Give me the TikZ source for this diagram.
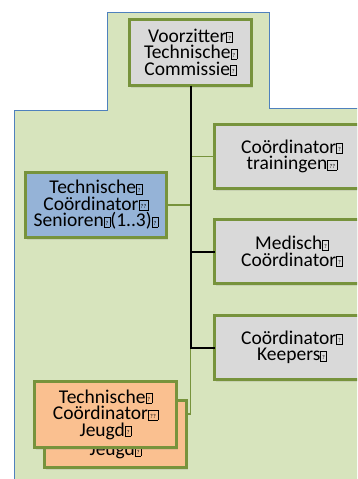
\documentclass[tikz,border=0pt]{standalone}
\usepackage{fontspec}
\setmainfont{Carlito}
\usetikzlibrary{shadows}
\definecolor{bggreen}{HTML}{D7E4BD}
\definecolor{bgblue}{HTML}{4F81BD}
\definecolor{olive}{HTML}{77933C}
\definecolor{boxgray}{HTML}{D9D9D9}
\definecolor{boxblue}{HTML}{95B3D7}
\definecolor{boxorange}{HTML}{FAC090}
\newcommand\qg{{\setlength\fboxsep{0pt}\setlength\fboxrule{0.5pt}\fbox{\makebox[5.5pt]{\rule{0pt}{9.5pt}\raisebox{1.5pt}{\fontsize{6}{6}\selectfont ?}}}}}
\newcommand\qgg{{\setlength\fboxsep{0pt}\setlength\fboxrule{0.5pt}\fbox{\makebox[9pt]{\rule{0pt}{9.5pt}\raisebox{1.5pt}{\fontsize{6}{6}\selectfont ??}}}}}
\tikzset{
  orgbox/.style={draw=olive, line width=3pt, inner sep=0pt, outer sep=0pt,
    align=center, font=\fontsize{19.5}{16.5}\selectfont, text=black,
    drop shadow={opacity=0.18, shadow xshift=1.5pt, shadow yshift=-2pt}},
  grayfill/.style={orgbox, fill=boxgray},
  greenline/.style={draw=olive, line width=1.2pt},
  blackline/.style={draw=black, line width=2pt},
}
\begin{document}
\begin{tikzpicture}[x=1pt,y=-1pt]
\useasboundingbox (0,0) rectangle (357,479);
\clip (0,0) rectangle (357,479);
% background area
\draw[fill=bggreen, draw=bgblue, line width=1pt]
  (107.5,12) -- (269,12) -- (269,108.5) -- (380,108.5) -- (380,500)
  -- (14.5,500) -- (14.5,110.5) -- (107.5,110.5) -- cycle;
% nodes
\node[grayfill, minimum width=122pt, minimum height=66pt] (top) at (190.5,52.5)
  {Voorzitter\qg\\Technische\qg\\Commissie\qg};
\node[grayfill, minimum width=155pt, minimum height=64pt] (train) at (292,156.5)
  {Coördinator\qg\\trainingen\qgg};
\node[grayfill, minimum width=155pt, minimum height=64pt] (med) at (292,251.5)
  {Medisch\qg\\Coördinator\qg};
\node[grayfill, minimum width=155pt, minimum height=64pt] (keep) at (292,347.5)
  {Coördinator\qg\\Keepers\qg};
\node[orgbox, fill=boxblue, minimum width=141pt, minimum height=65pt] (sen) at (96,205)
  {Technische\qg\\Coördinator\qgg\\Senioren\qg(1..3)\qg};
% connectors
\draw[greenline] (top.south) -- (top.south |- train.west) -- (train.west);
\draw[greenline] (sen.east) -- (sen.east -| top.south);
\draw[greenline] (top.south) -- (top.south |- keep.west);
\coordinate (jconn) at (105.5,414);
\draw[greenline] (top.south |- keep.west) -- (top.south |- jconn) -- (jconn);
\draw[blackline] (top.south) -- (top.south |- keep.west) -- (keep.west);
\draw[blackline] (top.south |- med.west) -- (med.west);
% jeugd boxes
\node[orgbox, fill=boxorange, minimum width=142pt, minimum height=67pt] (jeugdB) at (115.5,434)
  {Technische\qg\\Coördinator\qgg\\Jeugd\qg};
\node[orgbox, fill=boxorange, minimum width=142pt, minimum height=66pt] (jeugdF) at (105.5,414.5)
  {Technische\qg\\Coördinator\qgg\\Jeugd\qg};
\end{tikzpicture}
\end{document}
